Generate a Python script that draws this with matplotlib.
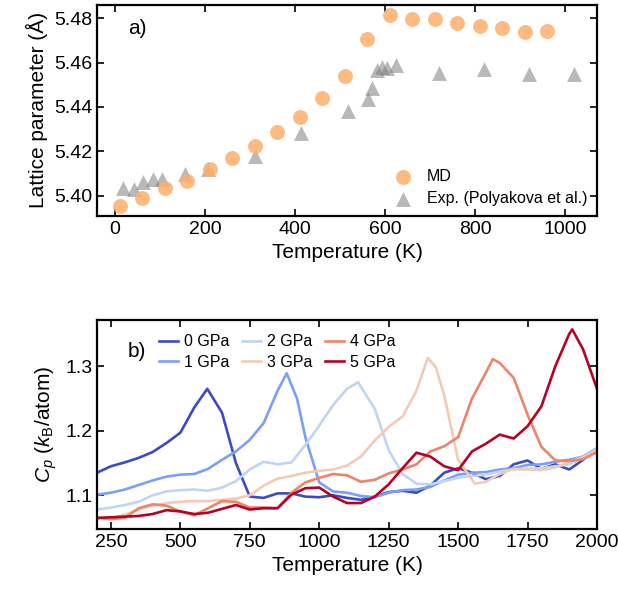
import matplotlib
matplotlib.use("Agg")
import matplotlib.pyplot as plt
import numpy as np

plt.rcParams["font.family"] = ["Liberation Sans", "DejaVu Sans"]
plt.rcParams["mathtext.fontset"] = "custom"
plt.rcParams["mathtext.rm"] = "Liberation Sans"
plt.rcParams["mathtext.it"] = "Liberation Sans:italic"
plt.rcParams["xtick.direction"] = "in"
plt.rcParams["ytick.direction"] = "in"
plt.rcParams["xtick.top"] = True
plt.rcParams["ytick.right"] = True

# panel a) lattice parameter
md_T = [10, 60, 110, 160, 210, 260, 310, 360, 410, 460, 510, 560, 610, 660,
        710, 760, 810, 860, 910, 960]
md_a = [5.3955, 5.3988, 5.4033, 5.4066, 5.4119, 5.4171, 5.4226, 5.4287, 5.4356,
        5.4442, 5.4540, 5.4707, 5.4813, 5.4798, 5.4798, 5.4776, 5.4766, 5.4755,
        5.4737, 5.4740]
exp_T = [18, 41, 63, 84, 105, 155, 207, 311, 413, 518, 561, 570, 581, 592, 603,
         623, 720, 819, 919, 1018]
exp_a = [5.4036, 5.4029, 5.4063, 5.4075, 5.4075, 5.4098, 5.4119, 5.4180, 5.4281,
         5.4383, 5.4436, 5.4484, 5.4567, 5.4582, 5.4575, 5.4590, 5.4555, 5.4570,
         5.4549, 5.4549]

# panel b) heat capacity
pressures = ["0 GPa", "1 GPa", "2 GPa", "3 GPa", "4 GPa", "5 GPa"]

T0 = [200, 250, 300, 350, 400, 450, 500, 550, 597, 650, 700, 750, 800, 850,
      900, 950, 1000, 1050, 1100, 1150, 1200, 1250, 1300, 1350, 1400, 1450,
      1500, 1550, 1600, 1650, 1700, 1750, 1800, 1850, 1900, 1950, 2000]
cp0 = [1.135, 1.145, 1.151, 1.158, 1.167, 1.181, 1.197, 1.236, 1.265, 1.228,
       1.150, 1.098, 1.096, 1.103, 1.103, 1.098, 1.097, 1.100, 1.096, 1.093,
       1.098, 1.105, 1.107, 1.104, 1.115, 1.135, 1.142, 1.135, 1.125, 1.130,
       1.148, 1.154, 1.141, 1.148, 1.140, 1.155, 1.172]

T1 = [200, 250, 300, 350, 400, 450, 500, 550, 600, 650, 700, 750, 800, 850,
      883, 920, 950, 1000, 1050, 1100, 1150, 1200, 1250, 1300, 1350, 1400,
      1450, 1500, 1550, 1600, 1650, 1700, 1750, 1800, 1850, 1900, 1950, 2000]
cp1 = [1.101, 1.104, 1.109, 1.116, 1.123, 1.129, 1.132, 1.133, 1.141, 1.155,
       1.168, 1.186, 1.212, 1.262, 1.289, 1.250, 1.190, 1.120, 1.106, 1.104,
       1.099, 1.097, 1.104, 1.108, 1.109, 1.113, 1.123, 1.132, 1.135, 1.136,
       1.140, 1.142, 1.147, 1.148, 1.152, 1.155, 1.160, 1.173]

T2 = [200, 250, 300, 350, 400, 450, 500, 550, 600, 650, 700, 750, 800, 850,
      900, 950, 1000, 1050, 1100, 1140, 1200, 1250, 1300, 1350, 1400, 1450,
      1500, 1550, 1600, 1650, 1700, 1750, 1800, 1850, 1900, 1950, 2000]
cp2 = [1.078, 1.081, 1.085, 1.090, 1.100, 1.106, 1.108, 1.109, 1.107, 1.112,
       1.122, 1.140, 1.152, 1.148, 1.151, 1.178, 1.208, 1.240, 1.265, 1.275,
       1.234, 1.170, 1.133, 1.118, 1.117, 1.122, 1.127, 1.130, 1.132, 1.137,
       1.140, 1.141, 1.142, 1.145, 1.148, 1.158, 1.172]

T3 = [200, 250, 300, 350, 400, 450, 500, 550, 600, 650, 700, 750, 800, 850,
      900, 950, 1000, 1050, 1100, 1150, 1200, 1250, 1300, 1350, 1391, 1420,
      1450, 1500, 1560, 1600, 1650, 1700, 1750, 1800, 1850, 1900, 1950, 2000]
cp3 = [1.065, 1.064, 1.070, 1.078, 1.084, 1.088, 1.090, 1.091, 1.091, 1.093,
       1.095, 1.100, 1.115, 1.126, 1.130, 1.135, 1.138, 1.140, 1.146, 1.160,
       1.185, 1.206, 1.222, 1.262, 1.313, 1.298, 1.255, 1.155, 1.118, 1.121,
       1.133, 1.141, 1.140, 1.139, 1.143, 1.152, 1.159, 1.170]

T4 = [200, 250, 300, 350, 400, 450, 500, 550, 600, 650, 700, 750, 800, 850,
      900, 950, 1000, 1050, 1100, 1150, 1200, 1250, 1300, 1350, 1400, 1450,
      1500, 1550, 1600, 1625, 1650, 1700, 1750, 1800, 1850, 1900, 1950, 2000]
cp4 = [1.065, 1.063, 1.065, 1.080, 1.086, 1.084, 1.075, 1.069, 1.080, 1.091,
       1.090, 1.081, 1.081, 1.080, 1.104, 1.120, 1.127, 1.133, 1.131, 1.121,
       1.124, 1.134, 1.140, 1.148, 1.168, 1.176, 1.190, 1.250, 1.290, 1.311,
       1.305, 1.282, 1.225, 1.175, 1.154, 1.153, 1.156, 1.167]

T5 = [200, 250, 300, 350, 400, 450, 500, 550, 600, 650, 700, 750, 800, 850,
      900, 950, 1000, 1050, 1100, 1150, 1200, 1250, 1300, 1350, 1400, 1450,
      1500, 1550, 1600, 1650, 1700, 1750, 1800, 1850, 1900, 1911, 1950, 2000]
cp5 = [1.065, 1.066, 1.067, 1.068, 1.071, 1.077, 1.075, 1.071, 1.073, 1.079,
       1.085, 1.078, 1.080, 1.080, 1.101, 1.111, 1.112, 1.098, 1.088, 1.088,
       1.098, 1.117, 1.142, 1.166, 1.160, 1.145, 1.139, 1.168, 1.180, 1.194,
       1.188, 1.207, 1.238, 1.300, 1.350, 1.357, 1.326, 1.265]

temps = [T0, T1, T2, T3, T4, T5]
cps = [cp0, cp1, cp2, cp3, cp4, cp5]

fig = plt.figure(figsize=(6.18, 6.01), dpi=100)
ax1 = fig.add_axes([0.157, 0.641, 0.809, 0.351])
ax2 = fig.add_axes([0.157, 0.120, 0.809, 0.348])

ax1.scatter(md_T, md_a, s=115, color="#fdae6b", alpha=0.85, lw=0, label="MD", zorder=3)
ax1.scatter(exp_T, exp_a, s=115, marker="^", color="gray", alpha=0.55, lw=0,
            label="Exp. (Polyakova et al.)", zorder=2)
ax1.set_xlim(-40, 1070)
ax1.set_ylim(5.391, 5.486)
ax1.set_xticks(np.arange(0, 1001, 200))
ax1.set_yticks([5.40, 5.42, 5.44, 5.46, 5.48])
ax1.set_xlabel("Temperature (K)", fontsize=15)
ax1.set_ylabel("Lattice parameter (Å)", fontsize=15)
ax1.text(0.062, 0.86, "a)", transform=ax1.transAxes, fontsize=15)
ax1.legend(loc="lower right", frameon=False, fontsize=11.5, handletextpad=0.5,
           borderaxespad=0.2, labelspacing=0.45)

colors = plt.cm.coolwarm(np.linspace(0, 1, 6))
for T, cp, c, lab in zip(temps, cps, colors, pressures):
    ax2.plot(T, cp, color=c, lw=1.9, label=lab)
ax2.set_xlim(200, 2000)
ax2.set_ylim(1.048, 1.372)
ax2.set_xticks(np.arange(250, 2001, 250))
ax2.set_yticks([1.1, 1.2, 1.3])
ax2.set_xlabel("Temperature (K)", fontsize=15)
ax2.set_ylabel(r"$C_p$ ($k_\mathrm{B}$/atom)", fontsize=15)
ax2.text(0.062, 0.82, "b)", transform=ax2.transAxes, fontsize=15)
ax2.legend(loc="upper left", bbox_to_anchor=(0.095, 1.0), ncol=3, frameon=False,
           fontsize=11.5, handlelength=1.2, handletextpad=0.4, columnspacing=0.75,
           labelspacing=0.35)

for ax in (ax1, ax2):
    ax.tick_params(labelsize=14, length=5, width=1.2)
    for s in ax.spines.values():
        s.set_linewidth(1.6)

fig.savefig("out.png", dpi=100)
